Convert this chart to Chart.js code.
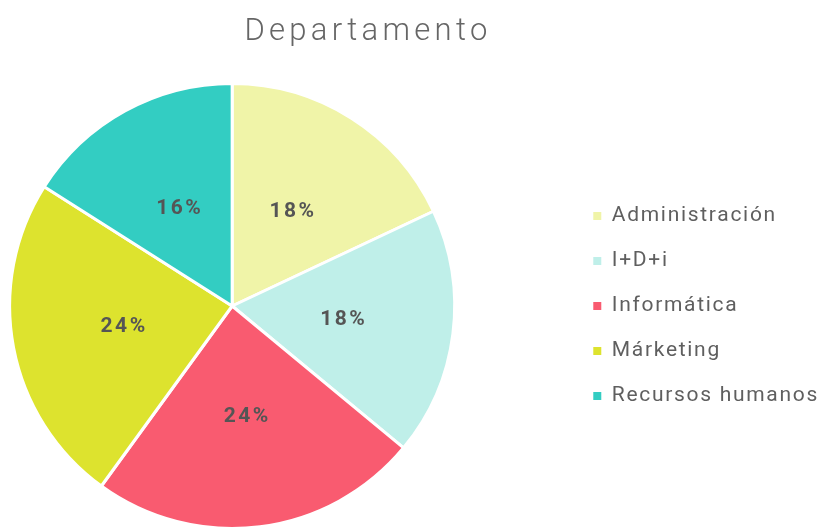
<!DOCTYPE html>
<html><head><meta charset="utf-8">
<script src="https://cdn.jsdelivr.net/npm/chart.js@4"></script>
<style>
html,body{margin:0;padding:0;background:#fff;}
#wrap{position:relative;width:825px;height:529px;overflow:hidden;}
#title{position:absolute;top:9px;left:0;width:736px;margin:0;text-align:center;font-family:Roboto,sans-serif;font-weight:300;font-size:31px;line-height:42px;letter-spacing:4.3px;color:#666;z-index:1;}
canvas{position:absolute;left:-105px;top:0;}
</style>
</head><body>
<div id="wrap">
<h1 id="title">Departamento</h1>
<canvas id="c" width="934" height="530"></canvas>
</div>
<script>
const categories = ['Administración', 'I+D+i', 'Informática', 'Márketing', 'Recursos humanos'];
const values = [18, 18, 24, 24, 16];
const colors = ['#f0f4a8', '#bfefe9', '#f95b70', '#dde32e', '#33cdc2'];

const LEGEND_SPACING = '1.7px';
const spacingPlugin = {
  id: 'spacing',
  afterInit(chart) { chart.ctx.letterSpacing = LEGEND_SPACING; },
  beforeLayout(chart) { chart.ctx.letterSpacing = LEGEND_SPACING; },
  beforeDraw(chart) { chart.ctx.letterSpacing = LEGEND_SPACING; }
};

const percentLabels = {
  id: 'percentLabels',
  afterDatasetsDraw(chart) {
    const ctx = chart.ctx;
    const data = chart.data.datasets[0].data;
    const total = data.reduce((a, b) => a + b, 0);
    const meta = chart.getDatasetMeta(0);
    ctx.save();
    ctx.letterSpacing = '2.5px';
    ctx.font = 'bold 21px Roboto, sans-serif';
    ctx.fillStyle = '#555555';
    ctx.textAlign = 'center';
    ctx.textBaseline = 'middle';
    meta.data.forEach((arc, i) => {
      const p = arc.getCenterPoint();
      const pct = Math.round(data[i] / total * 100) + '%';
      ctx.fillText(pct, p.x + 1.25, p.y);
    });
    ctx.restore();
  }
};

new Chart(document.getElementById('c'), {
  type: 'pie',
  data: {
    labels: categories,
    datasets: [{
      data: values,
      backgroundColor: colors,
      borderColor: '#ffffff',
      borderWidth: 3,
      hoverOffset: 0
    }]
  },
  options: {
    responsive: false,
    animation: false,
    layout: { padding: { left: 0, right: 0, top: 82, bottom: 0 } },
    plugins: {
      title: { display: false },
      tooltip: { enabled: false },
      legend: {
        position: 'right',
        fullSize: false,
        align: 'center',
        labels: {
          boxWidth: 8,
          boxHeight: 8,
          padding: 24,
          color: '#5f5f5f',
          font: { family: 'Roboto, sans-serif', size: 21, weight: '400' },
          generateLabels(chart) {
            const items = Chart.controllers.pie.overrides.plugins.legend.labels.generateLabels(chart);
            return items.map(it => Object.assign(it, { lineWidth: 0, strokeStyle: 'rgba(0,0,0,0)' }));
          }
        }
      }
    }
  },
  plugins: [spacingPlugin, percentLabels]
});
</script>
</body></html>
